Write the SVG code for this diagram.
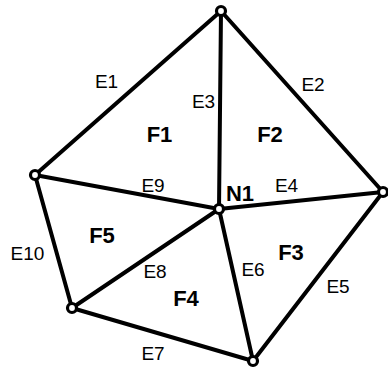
<svg xmlns="http://www.w3.org/2000/svg" width="388" height="369" viewBox="0 0 388 369">
<style>
.e{stroke:#000;stroke-width:4;fill:none;stroke-linecap:round}
.n{fill:#fff;stroke:#000;stroke-width:3.2}
.l{font-family:"Liberation Sans",Arial,sans-serif;font-size:19px;fill:#000;text-anchor:middle}
.f{font-family:"Liberation Sans",Arial,sans-serif;font-size:22px;font-weight:bold;fill:#000;text-anchor:middle}
</style>
<rect width="388" height="369" fill="#fff"/>
<g id="connectors">
<line class="e" x1="221" y1="11" x2="35" y2="175"/>
<line class="e" x1="221" y1="11" x2="383" y2="192"/>
<line class="e" x1="221" y1="11" x2="219" y2="209"/>
<line class="e" x1="219" y1="209" x2="383" y2="192"/>
<line class="e" x1="383" y1="192" x2="253" y2="361"/>
<line class="e" x1="219" y1="209" x2="253" y2="361"/>
<line class="e" x1="72" y1="308" x2="253" y2="361"/>
<line class="e" x1="219" y1="209" x2="72" y2="308"/>
<line class="e" x1="35" y1="175" x2="219" y2="209"/>
<line class="e" x1="35" y1="175" x2="72" y2="308"/>
</g>
<g id="nodeTop"><circle class="n" cx="221" cy="11" r="4.5"/></g>
<g id="nodeLeft"><circle class="n" cx="35" cy="175" r="4.5"/></g>
<g id="N1"><circle class="n" cx="219" cy="209" r="4.5"/><text class="f" x="240" y="201">N1</text></g>
<g id="nodeRight"><circle class="n" cx="383" cy="192" r="4.5"/></g>
<g id="nodeBottomLeft"><circle class="n" cx="72" cy="308" r="4.5"/></g>
<g id="nodeBottom"><circle class="n" cx="253" cy="361" r="4.5"/></g>
<g id="labels">
<text class="l" x="106.5" y="88">E1</text>
<text class="l" x="313" y="91">E2</text>
<text class="l" x="203.5" y="108">E3</text>
<text class="l" x="153" y="192">E9</text>
<text class="l" x="286.5" y="192">E4</text>
<text class="l" x="27.5" y="260">E10</text>
<text class="l" x="155" y="278">E8</text>
<text class="l" x="253" y="276">E6</text>
<text class="l" x="338" y="293">E5</text>
<text class="l" x="153" y="360">E7</text>
<text class="f" x="159.5" y="142">F1</text>
<text class="f" x="270" y="142">F2</text>
<text class="f" x="102" y="243">F5</text>
<text class="f" x="291" y="260">F3</text>
<text class="f" x="186" y="306">F4</text>
</g>
</svg>
